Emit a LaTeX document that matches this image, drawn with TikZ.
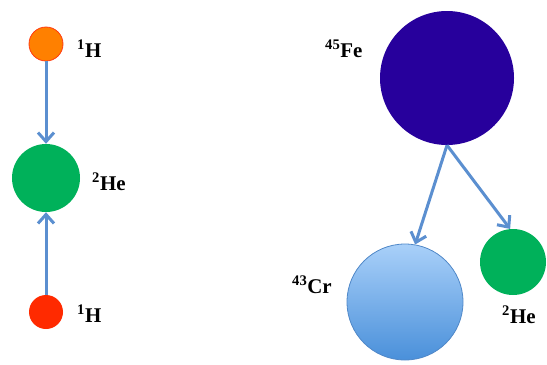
\documentclass[tikz,border=0pt]{standalone}
\usepackage{fontspec}
\setmainfont{Liberation Serif}
\usetikzlibrary{arrows.meta}
\definecolor{arr}{HTML}{5B8FD0}
\definecolor{orng}{HTML}{FF8000}
\definecolor{orngb}{HTML}{FF3A10}
\definecolor{grn}{HTML}{00B15A}
\definecolor{rd}{HTML}{FF2A00}
\definecolor{fe}{HTML}{27009C}
\definecolor{crtop}{HTML}{A9D0F9}
\definecolor{crbot}{HTML}{4A90DA}
\definecolor{crb}{HTML}{5088C8}
\tikzset{
  atom/.style={circle, inner sep=0pt},
  lbl/.style={anchor=base west, inner sep=0pt, font=\fontsize{21}{23}\selectfont\bfseries},
  conn/.style={draw=arr, line width=3bp, -{Straight Barb[length=9bp, width=16bp, line width=3bp]}}
}
\begin{document}
\begin{tikzpicture}[x=1bp, y=-1bp]
\useasboundingbox (0,0) rectangle (547,364);
% left
\node[atom, minimum size=34bp, fill=orng, draw=orngb, line width=0.8bp] (h1) at (46,44) {};
\node[atom, minimum size=68bp, fill=grn] (he) at (46,178) {};
\node[atom, minimum size=34bp, fill=rd] (h2) at (46,312) {};
\node[lbl] (lh1) at (77,57) {\textsuperscript{1}H};
\node[lbl] (lhe) at (92,190) {\textsuperscript{2}He};
\node[lbl] (lh2) at (77,322) {\textsuperscript{1}H};
\draw[conn] (h1.south) -- (he.north);
\draw[conn] (h2.north) -- (he.south);
% right
\node[atom, minimum size=134bp, fill=fe] (fe) at (447,78) {};
\node[atom, minimum size=116bp, top color=crtop, bottom color=crbot, draw=crb, line width=0.8bp] (cr) at (405,302) {};
\node[atom, minimum size=66bp, fill=grn] (he2) at (513,262) {};
\node[lbl] (lfe) at (325,57) {\textsuperscript{45}Fe};
\node[lbl] (lcr) at (292,293) {\textsuperscript{43}Cr};
\node[lbl] (lhe2) at (502,323) {\textsuperscript{2}He};
\draw[conn] (fe.south) -- (cr.80);
\draw[conn] (fe.south) -- (he2.95);
\end{tikzpicture}
\end{document}
